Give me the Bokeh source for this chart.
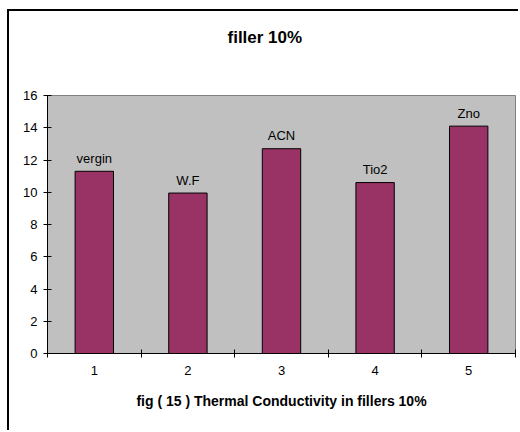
from bokeh.plotting import figure
from bokeh.models import FixedTicker, ColumnDataSource, Title
from bokeh.core.properties import value
from bokeh.embed import file_html
from bokeh.resources import INLINE

categories = ["1", "2", "3", "4", "5"]
materials = ["vergin", "W.F", "ACN", "Tio2", "Zno"]
conductivity = [11.3, 9.95, 12.7, 10.6, 14.1]
y_ticks = [0, 2, 4, 6, 8, 10, 12, 14, 16]
title_text = "filler 10%"
x_title = "fig ( 15 ) Thermal Conductivity in fillers 10%"

FONT = "Liberation Sans"
xs = [i + 1 for i in range(len(categories))]
src = ColumnDataSource(dict(x=xs, top=conductivity, name=materials))

p = figure(width=511, height=421, output_backend="svg", toolbar_location=None,
           title=None, x_range=(0.5, 5.5), y_range=(0, 16),
           min_border_left=38, min_border_top=84, min_border_right=5,
           min_border_bottom=79)
p.styles = {"margin-left": "7px", "margin-top": "9px",
            "border-left": "2px solid black", "border-top": "2px solid black"}

# spacer panel between plot area and chart title (nearest the frame)
p.add_layout(Title(text=" ", text_font_size="1px", standoff=41), "above")
p.add_layout(Title(text=title_text, align="left", offset=180, standoff=10,
                   text_font=FONT, text_font_size="17px",
                   text_font_style="bold", text_color="black"), "above")

p.background_fill_color = "#C0C0C0"
p.border_fill_color = "white"
p.outline_line_color = "#808080"
p.outline_line_width = 1
p.grid.visible = False

p.vbar(x="x", top="top", width=0.41, source=src, fill_color="#993366",
       line_color="black", line_width=1)
p.text(x="x", y="top", text="name", source=src, y_offset=-13,
       text_align="center", text_baseline="alphabetic",
       text_font=value(FONT), text_font_size="13px", text_color="black")

# x axis
p.xaxis.ticker = FixedTicker(ticks=xs, minor_ticks=[x - 0.5 for x in xs] + [xs[-1] + 0.5])
p.xaxis.major_label_overrides = {x: c for x, c in zip(xs, categories)}
p.xaxis.major_tick_in = 0
p.xaxis.major_tick_out = 0
p.xaxis.minor_tick_in = 4
p.xaxis.minor_tick_out = 4
p.xaxis.minor_tick_line_color = "black"
p.xaxis.axis_line_color = "black"
p.xaxis.major_label_standoff = 8
p.xaxis.major_label_text_font = FONT
p.xaxis.major_label_text_font_size = "13px"
p.xaxis.major_label_text_color = "black"
p.xaxis.axis_label = x_title
p.xaxis.axis_label_text_font = FONT
p.xaxis.axis_label_text_font_size = "14px"
p.xaxis.axis_label_text_font_style = "bold"
p.xaxis.axis_label_text_color = "black"
p.xaxis.axis_label_standoff = 15

# y axis
p.yaxis.ticker = FixedTicker(ticks=y_ticks)
p.yaxis.minor_tick_line_color = None
p.yaxis.major_tick_in = 4
p.yaxis.major_tick_out = 4
p.yaxis.major_tick_line_color = "black"
p.yaxis.axis_line_color = "black"
p.yaxis.major_label_standoff = 6
p.yaxis.major_label_text_font = FONT
p.yaxis.major_label_text_font_size = "13px"
p.yaxis.major_label_text_color = "black"

open("out.html", "w").write(file_html(p, INLINE))
